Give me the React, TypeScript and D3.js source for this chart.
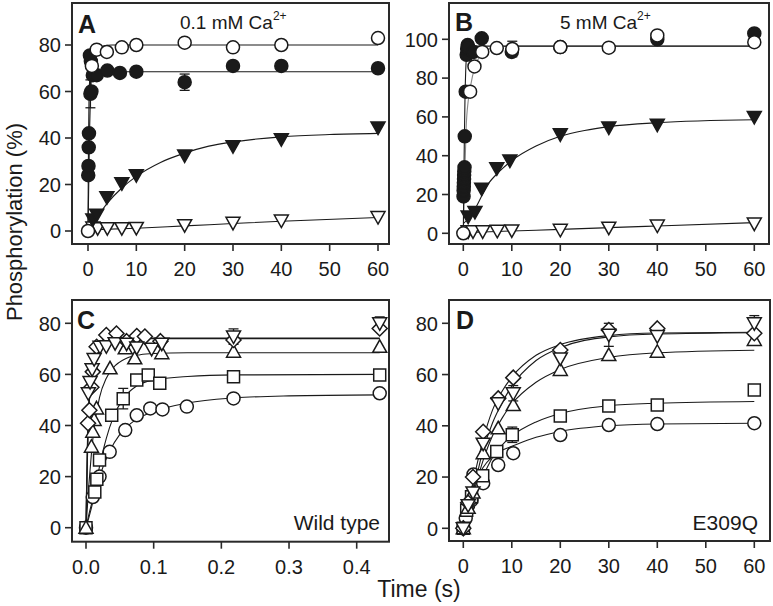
import React from 'react';
import * as d3 from 'd3';

type Pt = [number, number, number?];

// ---------- Tick labels ----------
const ticksX60 = [0, 10, 20, 30, 40, 50, 60];
const ticksXC = [0, 0.1, 0.2, 0.3, 0.4];
const ticksY80 = [0, 20, 40, 60, 80];
const ticksY100 = [0, 20, 40, 60, 80, 100];

// ---------- Panel A (0.1 mM Ca2+) ----------
const aOpenCircle: Pt[] = [[0, 0], [0.8, 71], [1.8, 78], [3.9, 77], [7, 79], [10, 80], [20, 81], [30, 79], [40, 80], [60, 83]];
const aOpenCircleFit: Pt[] = [[0, 0], [0.3, 40], [0.6, 62], [1, 72], [1.8, 77.5], [3, 79.5], [5, 80], [60, 80]];
const aFilledCircle: Pt[] = [[0.05, 24], [0.1, 28], [0.15, 36], [0.2, 42], [0.5, 59, 6], [0.7, 60], [0.6, 73], [0.4, 75.5], [1, 67], [1.8, 67], [4, 69], [6.6, 68, 1.5], [10, 68.5], [20, 64, 3.5], [30, 71], [40, 71], [60, 70]];
const aFilledCircleFit: Pt[] = [[0, 0], [0.05, 20], [0.1, 36], [0.2, 55], [0.3, 63], [0.5, 67.5], [1, 68.5], [60, 68.5]];
const aFilledTri: Pt[] = [[1, 5], [1.8, 7], [3.9, 14.5], [7, 20.5], [10, 24], [20, 32.5], [30, 36.5], [40, 39.5], [60, 44.5]];
const aFilledTriFit: Pt[] = [[0, 4], [1, 4.5], [2, 6.5], [4, 12], [7, 18.5], [10, 23.5], [15, 29.5], [20, 33.5], [25, 36.5], [30, 38.3], [40, 40.5], [50, 41.5], [60, 42]];
const aOpenTri: Pt[] = [[1, 1.5], [2, 1.2], [4, 1.2], [7, 1.2], [10, 1.3], [20, 2.5], [30, 3.5], [40, 4.5], [60, 6]];
const aOpenTriFit: Pt[] = [[0, 0.5], [10, 1.2], [20, 2.2], [30, 3.2], [40, 4.2], [60, 5.8]];

// ---------- Panel B (5 mM Ca2+) ----------
const bOpenCircle: Pt[] = [[0, 0], [1.4, 73], [2.3, 86], [3.9, 93.5], [6.9, 95.5], [10.1, 95, 4], [20, 96], [30, 95.7], [40, 102], [60, 98.5]];
const bOpenCircleFit: Pt[] = [[0, 0], [0.3, 30], [0.6, 55], [1, 68], [1.5, 76], [2.3, 85], [3, 89.5], [4, 93], [6, 95.5], [10, 96.5], [60, 96.5]];
const bFilledCircle: Pt[] = [[0.05, 19], [0.07, 22], [0.1, 24], [0.12, 26], [0.15, 28], [0.17, 30], [0.2, 32], [0.25, 34], [0.3, 50], [0.5, 73], [0.7, 92], [0.8, 95], [0.9, 97], [1, 96], [2.1, 93.5], [3.8, 100.5], [10, 93.5], [20, 96], [40, 100], [60, 103]];
const bFilledCircleFit: Pt[] = [[0, 0], [0.1, 25], [0.2, 45], [0.35, 70], [0.5, 84], [0.7, 92], [1, 95.5], [1.5, 96.5], [60, 96.5]];
const bFilledTri: Pt[] = [[1, 8.6], [2.4, 11], [3.8, 23], [6.9, 33.5], [9.6, 37.5], [20, 51], [30, 54.5], [40, 56], [60, 60]];
const bFilledTriFit: Pt[] = [[0, 5], [1, 7.5], [2.5, 13], [5, 25], [7.5, 32], [10, 37.5], [15, 45], [20, 50], [25, 53], [30, 55], [40, 57], [60, 58.5]];
const bOpenTri: Pt[] = [[1, 1], [2, 1], [4, 1], [7, 1.3], [10, 1.5], [20, 1.8], [30, 2.9], [40, 4], [60, 5]];
const bOpenTriFit: Pt[] = [[0, 0.3], [10, 1.2], [20, 2], [30, 2.9], [40, 3.8], [60, 5.5]];

// ---------- Panel C (Wild type) ----------
const cCircle: Pt[] = [[0, 0], [0.01, 12], [0.02, 20], [0.035, 29.7], [0.058, 38.2], [0.075, 44], [0.095, 46.7], [0.113, 46.3], [0.149, 47.4], [0.218, 50.6], [0.434, 52.6]];
const cCircleFit: Pt[] = [[0, 0], [0.005, 6], [0.01, 11], [0.02, 20], [0.035, 30], [0.05, 36.5], [0.075, 42.5], [0.1, 45.5], [0.15, 48.8], [0.22, 50.8], [0.3, 51.6], [0.434, 52]];
const cSquare: Pt[] = [[0, 0], [0.013, 14], [0.016, 19], [0.02, 26.5], [0.038, 44], [0.055, 50.5, 4], [0.075, 57.8], [0.092, 59.8], [0.109, 56.5], [0.218, 59.1], [0.434, 59.8]];
const cSquareFit: Pt[] = [[0, 0], [0.01, 10], [0.02, 24], [0.03, 35], [0.04, 43], [0.055, 50.5], [0.075, 55.5], [0.1, 57.8], [0.15, 59.2], [0.22, 59.8], [0.434, 60]];
const cTriUp: Pt[] = [[0, 0], [0.008, 31.7], [0.01, 37.6], [0.012, 42.2], [0.0155, 46.7], [0.0355, 62.4], [0.058, 70.2], [0.072, 66.3], [0.112, 68.3], [0.218, 68.9], [0.434, 70.8]];
const cTriUpFit: Pt[] = [[0, 0], [0.004, 16], [0.008, 29], [0.012, 39], [0.02, 51], [0.03, 58.5], [0.04, 62.5], [0.06, 66.3], [0.08, 67.7], [0.1, 68.2], [0.15, 68.5], [0.434, 68.5]];
const cTriDown: Pt[] = [[0.0034, 52.6], [0.006, 57], [0.009, 62], [0.012, 66], [0.0207, 70.8], [0.03, 71], [0.043, 72.2], [0.06, 72], [0.075, 70.5], [0.097, 70], [0.112, 72], [0.218, 74.8, 3], [0.434, 80, 2.5]];
const cTriDownFit: Pt[] = [[0, 0], [0.002, 28], [0.004, 45], [0.007, 58], [0.01, 65], [0.015, 70], [0.02, 72.3], [0.03, 73.6], [0.05, 74], [0.434, 74]];
const cDiamond: Pt[] = [[0.003, 40.9], [0.005, 46], [0.008, 55], [0.01, 61], [0.0157, 70.8], [0.03, 75.4], [0.045, 76], [0.06, 73], [0.075, 75], [0.087, 74.8], [0.11, 73], [0.218, 73.5], [0.434, 78]];
const cDiamondFit: Pt[] = [[0, 0], [0.002, 30], [0.004, 47], [0.007, 60], [0.01, 66], [0.015, 70.5], [0.02, 72.7], [0.03, 73.8], [0.05, 74.2], [0.434, 74.2]];

// ---------- Panel D (E309Q) ----------
const dCircle: Pt[] = [[0, 0], [0.5, 4], [1, 9], [1.7, 11], [2.1, 21], [4.1, 17.6], [7.2, 24.7], [10.3, 29.3], [20, 36.4], [30, 40.3], [40, 40.7], [60, 41]];
const dCircleFit: Pt[] = [[0, 0], [1, 8], [2, 15], [3, 20], [4, 23.5], [6, 28], [8, 30.5], [10, 32], [15, 35.5], [20, 37.8], [30, 40], [40, 40.7], [60, 41]];
const dSquare: Pt[] = [[0, 0], [0.7, 7], [1.7, 12.3], [4, 20.5], [6.9, 30], [10.1, 36.5, 3], [20, 43.8], [30, 47.7], [40, 48.1], [60, 54]];
const dSquareFit: Pt[] = [[0, 0], [2, 11], [4, 20], [6, 27.5], [8, 32.5], [10, 36], [15, 41.5], [20, 44.8], [30, 47.8], [40, 48.8], [60, 49.5]];
const dTriUp: Pt[] = [[0, 0], [1, 8], [2, 14], [4.1, 29.3], [7.2, 39], [10.3, 48.1], [20, 61.8], [30, 67.6], [40, 68.9], [60, 73.5]];
const dTriUpFit: Pt[] = [[0, 0], [2, 13], [4, 26], [6, 36], [8, 43], [10, 48.5], [15, 57], [20, 62], [30, 66.7], [40, 68.5], [60, 69.5]];
const dTriDown: Pt[] = [[0, 0], [1, 9], [2, 14], [4.1, 33], [7.2, 48.8], [10.3, 52.7, 3], [20, 66.3], [30, 75.5, 4.5], [40, 75], [60, 80, 3]];
const dTriDownFit: Pt[] = [[0, 0], [2, 14], [4, 30], [6, 41], [8, 49], [10, 55.5], [15, 65.5], [20, 70.5], [30, 74.7], [40, 75.8], [60, 76.3]];
const dDiamond: Pt[] = [[0, 0], [1, 10], [2, 20], [4.1, 37.7], [7.2, 50.7], [10.3, 58.8], [20, 69.6], [30, 77.4], [40, 78], [60, 76.1]];
const dDiamondFit: Pt[] = [[0, 0], [2, 18], [4, 34], [6, 46], [8, 53.5], [10, 59], [15, 67.5], [20, 71.7], [30, 75.2], [40, 76.2], [60, 76.5]];

const FONT = "'Liberation Sans', Arial, Helvetica, sans-serif";
const INK = '#1a1a1a';

type Shape = 'circle' | 'triDown' | 'triUp' | 'square' | 'diamond';
interface Series { data: Pt[]; shape: Shape; filled: boolean; }
interface Fit { data: Pt[]; color?: string; width?: number; }

function markerPath(shape: Shape): string {
  switch (shape) {
    case 'circle': return 'M6.5,0A6.5,6.5 0 1,1 -6.5,0A6.5,6.5 0 1,1 6.5,0Z';
    case 'square': return 'M-6,-6H6V6H-6Z';
    case 'triUp': return 'M0,-7L7,5.5L-7,5.5Z';
    case 'triDown': return 'M0,7L7,-5.5L-7,-5.5Z';
    case 'diamond': return 'M0,-7.5L7.5,0L0,7.5L-7.5,0Z';
  }
}

interface PanelProps {
  frame: [number, number, number, number]; // left, top, right, bottom
  xDom: [number, number]; xRange: [number, number];
  yDom: [number, number]; yRange: [number, number];
  xTicks: number[]; yTicks: number[]; xFmt: (v: number) => string;
  fits: Fit[]; series: Series[];
  letter: string; letterPos: [number, number];
  children?: React.ReactNode;
}

function Panel(p: PanelProps) {
  const [L, T, R, B] = p.frame;
  const x = d3.scaleLinear().domain(p.xDom).range(p.xRange);
  const y = d3.scaleLinear().domain(p.yDom).range(p.yRange);
  const line = d3.line<Pt>().x(d => x(d[0])).y(d => y(d[1])).curve(d3.curveMonotoneX);
  return (
    <g>
      <defs>
        <clipPath id={'clip' + p.letter}><rect x={L} y={T} width={R - L} height={B - T} /></clipPath>
      </defs>
      <g clipPath={`url(#clip${p.letter})`}>
        {p.fits.map((f, i) => (
          <path key={'f' + i} d={line(f.data) || ''} fill="none" stroke={f.color || INK} strokeWidth={f.width || 1.1} />
        ))}
        {p.series.map((s, si) => (
          <g key={'e' + si}>
            {s.data.filter(d => d[2]).map((d, i) => {
              const cx = x(d[0]); const e = d[2] as number;
              return (
                <g key={i} stroke={INK} strokeWidth={1.3}>
                  <line x1={cx} x2={cx} y1={y(d[1] - e)} y2={y(d[1] + e)} />
                  <line x1={cx - 5} x2={cx + 5} y1={y(d[1] - e)} y2={y(d[1] - e)} />
                  <line x1={cx - 5} x2={cx + 5} y1={y(d[1] + e)} y2={y(d[1] + e)} />
                </g>
              );
            })}
          </g>
        ))}
        {p.series.map((s, si) => (
          <g key={'s' + si}>
            {s.data.map((d, i) => (
              <path key={i} d={markerPath(s.shape)} transform={`translate(${x(d[0])},${y(d[1])})`}
                fill={s.filled ? INK : '#fff'} stroke={INK} strokeWidth={1.5} />
            ))}
          </g>
        ))}
      </g>
      <rect x={L} y={T} width={R - L} height={B - T} fill="none" stroke="#2a2a2a" strokeWidth={2} />
      {p.xTicks.map(t => (
        <g key={'xt' + t}>
          <line x1={x(t)} x2={x(t)} y1={B} y2={B + 7} stroke="#2a2a2a" strokeWidth={1.6} />
          <text x={x(t)} y={B + 32} textAnchor="middle" fontSize={20} fontFamily={FONT} fill={INK}>{p.xFmt(t)}</text>
        </g>
      ))}
      {p.yTicks.map(t => (
        <g key={'yt' + t}>
          <line x1={L - 7} x2={L} y1={y(t)} y2={y(t)} stroke="#2a2a2a" strokeWidth={1.6} />
          <text x={L - 11} y={y(t)} dy="0.36em" textAnchor="end" fontSize={20} fontFamily={FONT} fill={INK}>{t}</text>
        </g>
      ))}
      <text x={p.letterPos[0]} y={p.letterPos[1]} fontSize={25} fontWeight="bold" fontFamily={FONT} fill={INK}>{p.letter}</text>
      {p.children}
    </g>
  );
}

const fmtInt = (v: number) => String(v);
const fmt1 = d3.format('.1f');

export default function App() {
  return (
    <svg width={773} height={606} style={{ position: 'absolute', left: 0, top: 0, background: '#fff' }}>
      <rect x={0} y={0} width={773} height={606} fill="#fff" />
      <Panel frame={[72, 3, 389, 244]} xDom={[0, 60]} xRange={[88, 378]} yDom={[0, 80]} yRange={[231, 45]}
        xTicks={ticksX60} yTicks={ticksY80} xFmt={fmtInt} letter="A" letterPos={[78, 33]}
        fits={[{ data: aOpenCircleFit }, { data: aFilledCircleFit }, { data: aFilledTriFit }, { data: aOpenTriFit }]}
        series={[
          { data: aOpenTri, shape: 'triDown', filled: false },
          { data: aFilledTri, shape: 'triDown', filled: true },
          { data: aFilledCircle, shape: 'circle', filled: true },
          { data: aOpenCircle, shape: 'circle', filled: false },
        ]}>
        <text x={180} y={29} fontSize={19} fontFamily={FONT} fill={INK}>0.1 mM Ca<tspan dy={-9} fontSize={12}>2+</tspan></text>
      </Panel>
      <Panel frame={[449, 3, 769, 244]} xDom={[0, 60]} xRange={[463.3, 754.3]} yDom={[0, 100]} yRange={[233.3, 39.3]}
        xTicks={ticksX60} yTicks={ticksY100} xFmt={fmtInt} letter="B" letterPos={[455, 31]}
        fits={[{ data: bOpenCircleFit, color: '#888' }, { data: bFilledCircleFit }, { data: bFilledTriFit }, { data: bOpenTriFit }]}
        series={[
          { data: bOpenTri, shape: 'triDown', filled: false },
          { data: bFilledTri, shape: 'triDown', filled: true },
          { data: bFilledCircle, shape: 'circle', filled: true },
          { data: bOpenCircle, shape: 'circle', filled: false },
        ]}>
        <text x={560} y={29} fontSize={19} fontFamily={FONT} fill={INK}>5 mM Ca<tspan dy={-9} fontSize={12}>2+</tspan></text>
      </Panel>
      <Panel frame={[72, 300, 389, 541.7]} xDom={[0, 0.4]} xRange={[86, 356.7]} yDom={[0, 80]} yRange={[527.7, 323.3]}
        xTicks={ticksXC} yTicks={ticksY80} xFmt={fmt1} letter="C" letterPos={[77, 329]}
        fits={[{ data: cCircleFit }, { data: cSquareFit }, { data: cTriUpFit }, { data: cTriDownFit, width: 1.4 }, { data: cDiamondFit, width: 1.4 }]}
        series={[
          { data: cCircle, shape: 'circle', filled: false },
          { data: cSquare, shape: 'square', filled: false },
          { data: cTriUp, shape: 'triUp', filled: false },
          { data: cDiamond, shape: 'diamond', filled: false },
          { data: cTriDown, shape: 'triDown', filled: false },
        ]}>
        <text x={380} y={530} textAnchor="end" fontSize={21} fontFamily={FONT} fill={INK}>Wild type</text>
      </Panel>
      <Panel frame={[449, 300, 770, 541]} xDom={[0, 60]} xRange={[463.3, 754.3]} yDom={[0, 80]} yRange={[528.3, 323.3]}
        xTicks={ticksX60} yTicks={ticksY80} xFmt={fmtInt} letter="D" letterPos={[456, 329]}
        fits={[{ data: dCircleFit }, { data: dSquareFit }, { data: dTriUpFit }, { data: dTriDownFit }, { data: dDiamondFit }]}
        series={[
          { data: dCircle, shape: 'circle', filled: false },
          { data: dSquare, shape: 'square', filled: false },
          { data: dTriUp, shape: 'triUp', filled: false },
          { data: dDiamond, shape: 'diamond', filled: false },
          { data: dTriDown, shape: 'triDown', filled: false },
        ]}>
        <text x={758} y={530} textAnchor="end" fontSize={21} fontFamily={FONT} fill={INK}>E309Q</text>
      </Panel>
      <text x={419} y={597} textAnchor="middle" fontSize={23} fontFamily={FONT} fill={INK}>Time (s)</text>
      <text transform="translate(22,222) rotate(-90)" textAnchor="middle" fontSize={22} fontFamily={FONT} fill={INK}>Phosphorylation (%)</text>
    </svg>
  );
}
